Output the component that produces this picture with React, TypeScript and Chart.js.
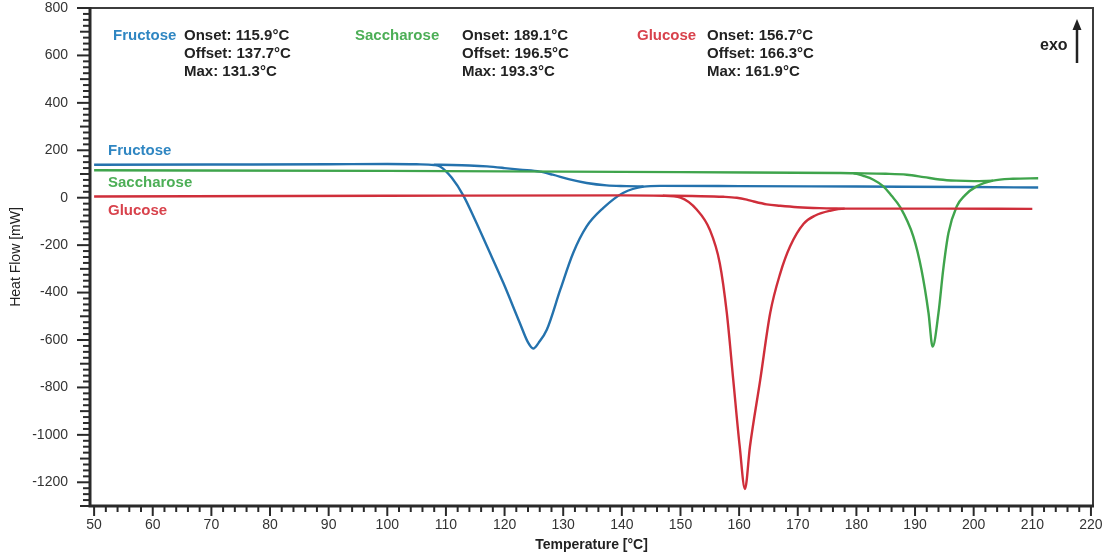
import React, { useEffect, useRef } from 'react';
import { Chart, registerables } from 'chart.js';

Chart.register(...registerables);

// ---- Data (temperature °C, heat flow mW) ----
const fructoseCurve: [number, number][] = [
  [50, 139], [70, 140], [90, 141], [100, 142], [105, 141], [108, 138], [109, 132], [111, 84],
  [113, 8], [115, -95], [117, -205], [119.8, -360], [122.6, -528], [124, -610], [124.9, -636],
  [125.8, -612], [127.2, -557], [129.5, -388], [131.7, -233], [134, -121], [136.8, -44],
  [140.2, 20], [143.7, 47], [146.5, 50], [160, 49], [180, 47], [200, 45], [211, 43],
];
const fructoseBaseline: [number, number][] = [
  [108, 139], [111, 138], [114, 136], [117, 132], [120, 125], [122.6, 118], [126, 110],
  [128.2, 97], [131.1, 77], [134, 62], [137.4, 52], [140.8, 49], [143.7, 47],
];
const saccharoseCurve: [number, number][] = [
  [50, 116], [100, 113], [150, 108], [177, 104], [179.5, 103], [181.2, 92], [182.9, 76],
  [184.6, 48], [186, 8], [187.4, -37], [189.7, -163], [191.1, -304], [192.3, -486], [193, -628],
  [194, -486], [194.8, -304], [195.7, -149], [197.1, -37], [198.5, 10], [200.5, 48],
  [203.3, 72], [206.7, 80], [211, 82],
];
const saccharoseBaseline: [number, number][] = [
  [179.5, 103], [185, 101], [188.6, 97], [191.5, 87], [194.2, 77], [197, 72], [200, 70], [203.3, 72],
];
const glucoseCurve: [number, number][] = [
  [50, 5], [100, 8], [140, 10], [147, 8], [150, 0], [152.8, -51], [155, -135], [156.7, -276],
  [157.9, -486], [159, -768], [160.1, -1049], [161, -1228], [161.85, -1049], [163.6, -768],
  [165.3, -486], [167, -320], [168.7, -205], [171, -110], [173, -75], [175.5, -55], [178, -46],
  [195, -46], [210, -47],
];
const glucoseBaseline: [number, number][] = [
  [147, 9], [152, 7], [157.3, 4], [159.6, 0], [161.3, -8], [162.5, -16], [164.7, -28],
  [167, -34], [170, -40], [173.7, -44], [178, -46],
];

const sampleNames = ['Fructose', 'Saccharose', 'Glucose'];
const onsetLabels = ['Onset: 115.9°C', 'Onset: 189.1°C', 'Onset: 156.7°C'];
const offsetLabels = ['Offset: 137.7°C', 'Offset: 196.5°C', 'Offset: 166.3°C'];
const maxLabels = ['Max: 131.3°C', 'Max: 193.3°C', 'Max: 161.9°C'];

const lineColors = ['#2472ad', '#3fa44c', '#cf2e3a'];
const labelColors = ['#2f86c2', '#4cae56', '#d8424c'];

const xMin = 49.3;
const xMax = 220.35;
const yMin = -1300;
const yMax = 800;
const xMinorStep = 2;
const xMajorStep = 10;
const yMinorStep = 25;
const yMidStep = 100;
const yMajorStep = 200;

const xTitle = 'Temperature [°C]';
const yTitle = 'Heat Flow [mW]';

const FONT = '"Liberation Sans", Arial, Helvetica, sans-serif';

const toPts = (arr: [number, number][]) => arr.map(([x, y]) => ({ x, y }));

const decorPlugin = {
  id: 'decor',
  afterDraw(chart: any) {
    const { ctx, chartArea: a, scales } = chart;
    const xs = scales.x;
    const ys = scales.y;
    ctx.save();
    // frame
    ctx.strokeStyle = '#3c3c3c';
    ctx.lineWidth = 2;
    ctx.strokeRect(a.left, a.top, a.right - a.left, a.bottom - a.top);
    ctx.lineWidth = 3;
    ctx.strokeStyle = '#2a2a2a';
    ctx.beginPath();
    ctx.moveTo(a.left, a.top - 1);
    ctx.lineTo(a.left, a.bottom);
    ctx.lineTo(a.right + 1, a.bottom);
    ctx.stroke();

    // tick marks
    ctx.lineWidth = 2;
    for (const t of ys.ticks) {
      const v = t.value;
      const py = ys.getPixelForValue(v);
      const len = v % yMajorStep === 0 ? 13 : v % yMidStep === 0 ? 10 : 7;
      ctx.beginPath();
      ctx.moveTo(a.left - len, py);
      ctx.lineTo(a.left, py);
      ctx.stroke();
    }
    for (const t of xs.ticks) {
      const v = t.value;
      const px = xs.getPixelForValue(v);
      const len = v % xMajorStep === 0 ? 10 : 6;
      ctx.beginPath();
      ctx.moveTo(px, a.bottom);
      ctx.lineTo(px, a.bottom + len);
      ctx.stroke();
    }

    // annotation block
    ctx.textBaseline = 'middle';
    ctx.textAlign = 'left';
    ctx.font = `bold 15px ${FONT}`;
    const nameX = [113, 355, 637];
    const statX = [184, 462, 707];
    const rowY = [36, 54, 72];
    for (let i = 0; i < sampleNames.length; i++) {
      ctx.fillStyle = labelColors[i];
      ctx.fillText(sampleNames[i], nameX[i], rowY[0]);
      ctx.fillStyle = '#222';
      ctx.fillText(onsetLabels[i], statX[i], rowY[0]);
      ctx.fillText(offsetLabels[i], statX[i], rowY[1]);
      ctx.fillText(maxLabels[i], statX[i], rowY[2]);
    }
    // curve labels
    const curveLabelY = [151, 183, 211];
    for (let i = 0; i < sampleNames.length; i++) {
      ctx.fillStyle = labelColors[i];
      ctx.fillText(sampleNames[i], 108, curveLabelY[i]);
    }
    // exo arrow
    ctx.fillStyle = '#222';
    ctx.font = `bold 16px ${FONT}`;
    ctx.fillText('exo', 1040, 46);
    ctx.strokeStyle = '#222';
    ctx.lineWidth = 2.5;
    ctx.beginPath();
    ctx.moveTo(1077, 63);
    ctx.lineTo(1077, 27);
    ctx.stroke();
    ctx.beginPath();
    ctx.moveTo(1077, 19);
    ctx.lineTo(1081.5, 30);
    ctx.lineTo(1072.5, 30);
    ctx.closePath();
    ctx.fill();
    ctx.restore();
  },
};

export default function App() {
  const canvasRef = useRef<HTMLCanvasElement | null>(null);

  useEffect(() => {
    const canvas = canvasRef.current;
    if (!canvas) return;
    const mk = (data: [number, number][], color: string, order: number) => ({
      data: toPts(data),
      borderColor: color,
      backgroundColor: color,
      borderWidth: 2.4,
      pointRadius: 0,
      fill: false,
      cubicInterpolationMode: 'monotone' as const,
      order,
    });
    const chart = new Chart(canvas, {
      type: 'line',
      data: {
        datasets: [
          { label: 'Fructose baseline', ...mk(fructoseBaseline, lineColors[0], 3) },
          { label: 'Saccharose baseline', ...mk(saccharoseBaseline, lineColors[1], 3) },
          { label: 'Glucose baseline', ...mk(glucoseBaseline, lineColors[2], 3) },
          { label: 'Fructose', ...mk(fructoseCurve, lineColors[0], 2) },
          { label: 'Saccharose', ...mk(saccharoseCurve, lineColors[1], 1) },
          { label: 'Glucose', ...mk(glucoseCurve, lineColors[2], 0) },
        ],
      },
      options: {
        responsive: false,
        animation: false,
        devicePixelRatio: 1,
        layout: { padding: { top: 8, right: 17, left: 0, bottom: 0 } },
        plugins: {
          legend: { display: false },
          tooltip: { enabled: false },
        },
        scales: {
          x: {
            type: 'linear',
            min: xMin,
            max: xMax,
            afterBuildTicks: (scale: any) => {
              const ticks = [];
              for (let v = 50; v <= 220; v += xMinorStep) ticks.push({ value: v });
              scale.ticks = ticks;
            },
            afterFit: (scale: any) => {
              scale.height = 52;
              scale.paddingLeft = 0;
              scale.paddingRight = 0;
            },
            grid: { display: false, drawTicks: false, tickLength: 0 },
            border: { display: false },
            ticks: {
              autoSkip: false,
              maxRotation: 0,
              padding: 11,
              color: '#333',
              font: { family: FONT, size: 14 },
              callback: (v: any) => (Number(v) % xMajorStep === 0 ? String(v) : ''),
            },
            title: {
              display: true,
              text: xTitle,
              color: '#222',
              font: { family: FONT, size: 14, weight: 'bold' },
              padding: { top: 0, bottom: 4 },
            },
          },
          y: {
            type: 'linear',
            min: yMin,
            max: yMax,
            afterBuildTicks: (scale: any) => {
              const ticks = [];
              for (let v = yMin; v <= yMax; v += yMinorStep) ticks.push({ value: v });
              scale.ticks = ticks;
            },
            afterFit: (scale: any) => {
              scale.width = 90;
              scale.paddingTop = 0;
              scale.paddingBottom = 0;
            },
            grid: { display: false, drawTicks: false, tickLength: 0 },
            border: { display: false },
            ticks: {
              autoSkip: false,
              padding: 22,
              color: '#333',
              font: { family: FONT, size: 14 },
              callback: (v: any) => (Number(v) % yMajorStep === 0 && Number(v) !== yMin ? String(v) : ''),
            },
            title: {
              display: true,
              text: yTitle,
              color: '#222',
              font: { family: FONT, size: 14 },
              padding: { top: 8, bottom: 0 },
            },
          },
        },
      },
      plugins: [decorPlugin],
    });
    return () => chart.destroy();
  }, []);

  return (
    <div style={{ position: 'absolute', left: 0, top: 0, width: 1110, height: 558, background: '#fff' }}>
      <canvas ref={canvasRef} width={1110} height={558} />
    </div>
  );
}
